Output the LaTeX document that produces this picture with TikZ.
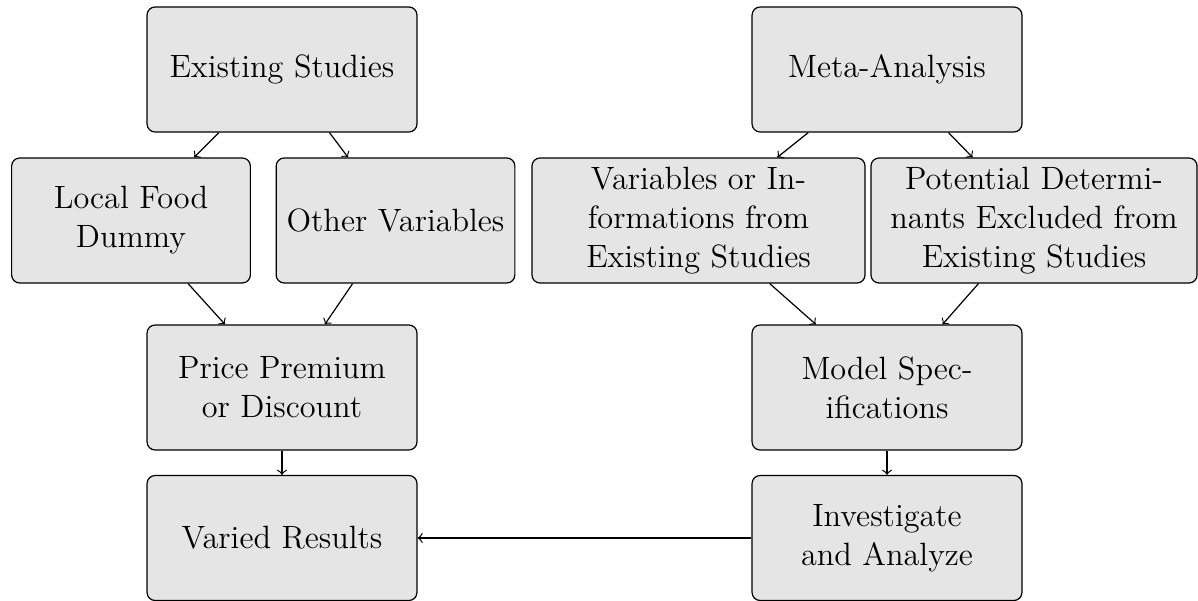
\documentclass[tikz,border=0pt]{standalone}
\usetikzlibrary{arrows}
\tikzset{
  box/.style={draw=black, fill=black!10, rounded corners=3pt, align=center,
    inner sep=2pt, minimum height=46.5pt,
    font=\fontsize{12}{14.5}\selectfont},
  wide/.style={box, minimum width=100.4pt},
  narrow/.style={box, minimum width=88.8pt},
  link/.style={->, line width=0.45pt}
}
\begin{document}
\begin{tikzpicture}[x=0.372pt, y=-0.372pt, line width=0.45pt]
  \useasboundingbox (0,0) rectangle (1198,601);

  % left branch
  \node[wide]   (es)  at (282,69.5)   {Existing Studies};
  \node[narrow] (lfd) at (131,220.5)  {Local Food\\Dummy};
  \node[narrow] (ov)  at (395.5,220.5){Other Variables};
  \node[wide]   (pp)  at (282,387.5)  {Price Premium\\or Discount};
  \node[wide]   (vr)  at (282,538)    {Varied Results};

  % right branch
  \node[wide] (ma)  at (887,69.5) {Meta-Analysis};
  \node[box, minimum width=123.9pt] (vi) at (698.5,220.5)
    {Variables or In-\\formations from\\Existing Studies};
  \node[box, minimum width=121.3pt] (pd) at (1034,220.5)
    {Potential Determi-\\nants Excluded from\\Existing Studies};
  \node[wide] (ms)  at (887,387.5) {Model Spec-\\ifications};
  \node[wide] (ia)  at (887,538)   {Investigate\\and Analyze};

  % connectors
  \draw[link] (es) -- (lfd);
  \draw[link] (es) -- (ov);
  \draw[link] (lfd) -- (pp);
  \draw[link] (ov) -- (pp);
  \draw[link] (pp) -- (vr);
  \draw[link] (ma) -- (vi);
  \draw[link] (ma) -- (pd);
  \draw[link] (vi) -- (ms);
  \draw[link] (pd) -- (ms);
  \draw[link] (ms) -- (ia);
  \draw[link] (ia) -- (vr);
\end{tikzpicture}
\end{document}
